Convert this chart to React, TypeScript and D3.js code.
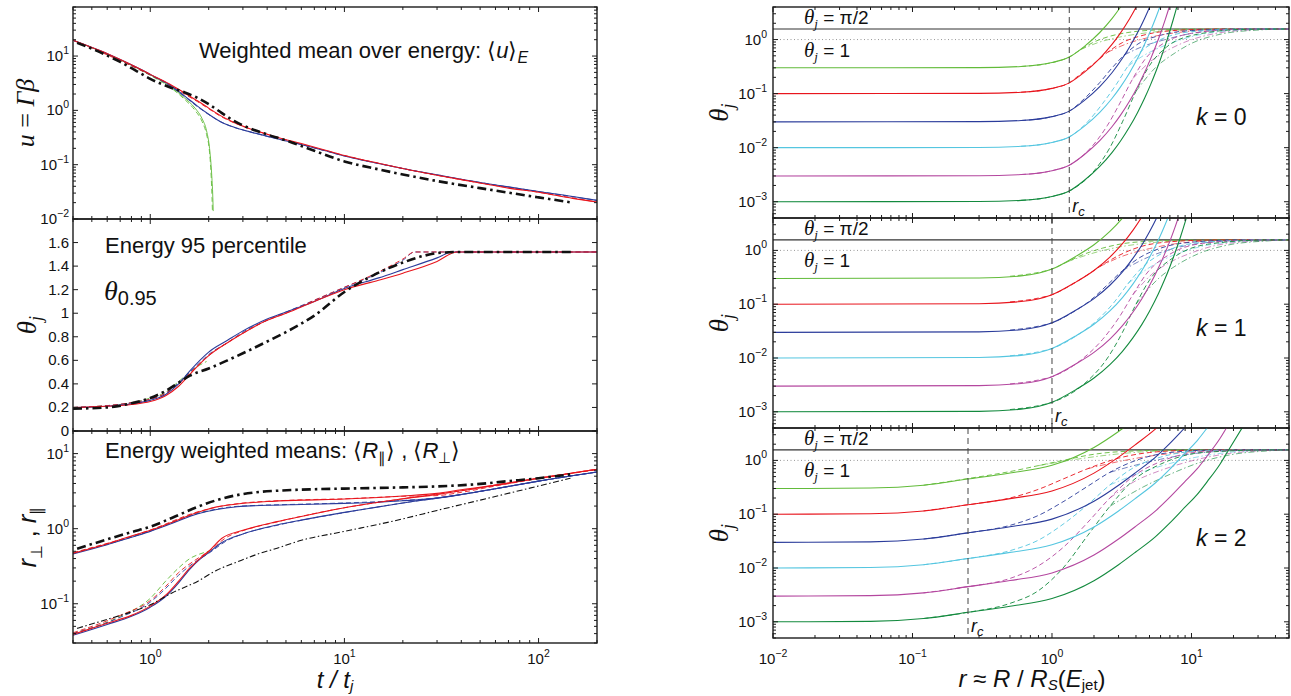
import React from "react";
import * as d3 from "d3";

type Pt = [number, number];

// ================= LEFT COLUMN DATA =================
const T_DOMAIN: [number, number] = [0.4, 200];
const U_DOMAIN: [number, number] = [0.01, 80];
const TH95_DOMAIN: [number, number] = [0, 1.8];
const R_DOMAIN: [number, number] = [0.03, 20];
const TH95_TICKS = [0, 0.2, 0.4, 0.6, 0.8, 1, 1.2, 1.4, 1.6];

// u = Gamma beta (energy weighted mean)
const U_BLUE: Pt[] = [[0.4,19.6],[0.55,12.6],[0.7,8.6],[0.85,6.2],[1,4.6],[1.25,3.0],[1.5,1.85],[1.75,1.2],[2,0.85],[2.3,0.62],[2.7,0.49],[3.2,0.41],[4.5,0.3],[6,0.235],[8,0.18],[10,0.145],[15,0.105],[20,0.085],[30,0.065],[50,0.047],[70,0.039],[100,0.032],[150,0.026],[200,0.022]];
const U_BLUE_DASH: Pt[] = [[0.4,19.6],[0.7,8.5],[1,4.5],[1.25,2.9],[1.5,1.8],[1.75,1.17],[2,0.84],[2.3,0.62],[2.7,0.49],[3.2,0.41],[4.5,0.3],[6,0.235],[10,0.145],[20,0.085],[50,0.047],[100,0.032],[200,0.022]];
const U_RED: Pt[] = [[0.4,19.6],[0.55,12.6],[0.7,8.6],[0.85,6.2],[1,4.6],[1.25,3.1],[1.5,2.1],[1.75,1.5],[2,1.1],[2.3,0.8],[2.7,0.6],[3.2,0.47],[4.5,0.32],[6,0.245],[8,0.185],[10,0.148],[15,0.106],[20,0.085],[30,0.064],[50,0.046],[70,0.037],[100,0.031],[150,0.024],[200,0.0205]];
const U_RED_DASH: Pt[] = [[0.4,19.6],[1,4.5],[1.25,3.0],[1.5,2.0],[1.75,1.45],[2,1.07],[2.3,0.78],[2.7,0.59],[3.2,0.47],[4.5,0.32],[10,0.148],[20,0.085],[50,0.046],[100,0.031],[200,0.0205]];
const U_GREEN: Pt[] = [[0.4,19.6],[0.7,8.5],[1,4.5],[1.25,2.85],[1.5,1.7],[1.7,1.1],[1.85,0.7],[1.95,0.42],[2.02,0.2],[2.07,0.07],[2.1,0.025],[2.11,0.014]];
const U_GREEN_DASH: Pt[] = [[0.4,19.6],[0.7,8.4],[1,4.4],[1.25,2.75],[1.5,1.6],[1.7,1.0],[1.85,0.62],[1.95,0.36],[2.02,0.17],[2.06,0.06],[2.08,0.025],[2.09,0.014]];
const U_BLACK: Pt[] = [[0.42,17.5],[0.55,11.8],[0.7,7.8],[0.85,5.3],[1,3.8],[1.25,2.7],[1.5,2.15],[1.75,1.7],[2,1.3],[2.33,0.9],[2.7,0.64],[3.2,0.48],[4,0.36],[5,0.28],[7,0.18],[10,0.115],[15,0.082],[20,0.066],[30,0.05],[50,0.037],[100,0.025],[150,0.02]];

// theta_0.95
const TH_BLUE: Pt[] = [[0.4,0.2],[0.6,0.21],[0.8,0.23],[1,0.26],[1.2,0.31],[1.4,0.4],[1.6,0.51],[1.8,0.6],[2,0.67],[2.5,0.77],[3,0.85],[4,0.95],[5,1.01],[7,1.1],[10,1.21],[15,1.3],[20,1.37],[30,1.47],[36,1.52],[60,1.52],[200,1.52]];
const TH_BLUE_DASH: Pt[] = [[0.4,0.2],[0.6,0.215],[0.8,0.24],[1,0.27],[1.2,0.32],[1.4,0.41],[1.6,0.5],[1.8,0.58],[2,0.65],[2.5,0.75],[3,0.84],[4,0.94],[5,1.01],[7,1.11],[10,1.22],[15,1.34],[20,1.45],[23,1.52],[60,1.52],[200,1.52]];
const TH_RED: Pt[] = [[0.4,0.2],[0.6,0.21],[0.8,0.225],[1,0.25],[1.2,0.3],[1.4,0.38],[1.6,0.48],[1.8,0.57],[2,0.64],[2.5,0.75],[3,0.83],[4,0.94],[5,1.0],[7,1.1],[10,1.2],[15,1.28],[20,1.34],[30,1.44],[38,1.52],[60,1.52],[200,1.52]];
const TH_RED_DASH: Pt[] = [[0.4,0.2],[0.8,0.24],[1,0.27],[1.2,0.32],[1.4,0.4],[1.6,0.49],[1.8,0.57],[2,0.64],[2.5,0.75],[3,0.83],[4,0.94],[5,1.0],[7,1.11],[10,1.22],[15,1.35],[20,1.46],[23,1.52],[60,1.52],[200,1.52]];
const TH_GREEN_DASH: Pt[] = [[0.4,0.2],[0.6,0.215],[0.8,0.24],[1,0.28],[1.2,0.33],[1.4,0.42],[1.6,0.5],[1.8,0.56],[1.95,0.59]];
const TH_BLACK: Pt[] = [[0.4,0.19],[0.6,0.2],[0.8,0.235],[1,0.28],[1.2,0.34],[1.4,0.41],[1.6,0.47],[2,0.53],[2.5,0.6],[3,0.66],[4,0.76],[5,0.84],[7,0.98],[10,1.18],[14,1.32],[20,1.43],[26,1.49],[32,1.515],[40,1.52],[150,1.52]];

// r_perp (upper group) and r_par (lower group)
const R_BLACK_UP: Pt[] = [[0.42,0.54],[0.6,0.72],[0.8,0.9],[1,1.06],[1.3,1.4],[1.76,1.96],[2.2,2.4],[2.8,2.8],[3.5,3.05],[4.5,3.2],[7,3.35],[10,3.42],[20,3.55],[30,3.65],[50,3.95],[70,4.3],[100,4.7],[146,5.3]];
const R_RED_UP: Pt[] = [[0.4,0.47],[0.6,0.63],[0.8,0.8],[1,0.95],[1.3,1.22],[1.76,1.65],[2.2,1.95],[2.8,2.13],[4,2.3],[6,2.4],[10,2.48],[15,2.6],[20,2.72],[30,2.95],[40,3.3],[60,3.8],[100,4.7],[200,6.2]];
const R_RED_UP_DASH: Pt[] = [[0.4,0.48],[1,0.96],[1.76,1.68],[2.8,2.15],[6,2.42],[10,2.5],[15,2.62],[20,2.7],[30,2.76],[40,3.05],[60,3.7],[100,4.65],[200,6.1]];
const R_BLUE_UP: Pt[] = [[0.4,0.46],[0.6,0.61],[0.8,0.77],[1,0.92],[1.3,1.18],[1.76,1.58],[2.2,1.8],[2.8,1.96],[4,2.05],[6,2.1],[10,2.17],[15,2.25],[20,2.35],[30,2.55],[40,2.85],[60,3.4],[100,4.3],[200,5.7]];
const R_BLUE_UP_DASH: Pt[] = [[0.4,0.47],[1,0.93],[1.76,1.6],[2.8,1.98],[6,2.12],[10,2.2],[20,2.38],[30,2.56],[40,2.84],[60,3.4],[100,4.3],[200,5.7]];
const R_GREEN_UP: Pt[] = [[0.4,0.47],[0.7,0.7],[1,0.94],[1.3,1.22],[1.6,1.5],[1.9,1.68],[2.1,1.75]];
const R_RED_LOW: Pt[] = [[0.4,0.039],[0.6,0.055],[0.8,0.07],[1,0.093],[1.2,0.13],[1.4,0.2],[1.6,0.3],[1.8,0.4],[2,0.5],[2.33,0.74],[3,0.95],[4.5,1.24],[6,1.45],[10,1.9],[15,2.25],[20,2.5],[30,2.85],[40,3.2],[60,3.8],[100,4.7],[200,6.2]];
const R_RED_LOW_DASH: Pt[] = [[0.4,0.041],[0.7,0.07],[1,0.11],[1.2,0.17],[1.4,0.26],[1.7,0.38],[2,0.5],[2.5,0.78],[3,0.94],[4.5,1.23],[10,1.9],[20,2.5],[40,3.2],[100,4.7],[200,6.2]];
const R_BLUE_LOW: Pt[] = [[0.4,0.038],[0.6,0.053],[0.8,0.068],[1,0.09],[1.2,0.125],[1.4,0.19],[1.6,0.29],[1.8,0.39],[2,0.48],[2.33,0.65],[3,0.85],[4.5,1.12],[6,1.3],[10,1.65],[15,1.95],[20,2.2],[30,2.55],[40,2.85],[60,3.4],[100,4.3],[200,5.7]];
const R_BLUE_LOW_DASH: Pt[] = [[0.4,0.04],[0.7,0.066],[1,0.105],[1.2,0.16],[1.4,0.24],[1.7,0.36],[2,0.47],[2.5,0.7],[3,0.85],[4.5,1.11],[10,1.64],[20,2.2],[40,2.85],[100,4.3],[200,5.7]];
const R_GREEN_LOW: Pt[] = [[0.4,0.04],[0.7,0.068],[1,0.118],[1.2,0.2],[1.4,0.3],[1.6,0.4],[1.8,0.46],[2,0.5]];
const R_BLACK_LOW: Pt[] = [[0.42,0.047],[0.6,0.062],[0.8,0.078],[1,0.097],[1.3,0.14],[1.76,0.2],[2.2,0.28],[2.8,0.36],[3.5,0.45],[4.5,0.55],[6,0.7],[10,0.92],[20,1.35],[30,1.75],[50,2.4],[100,3.7],[146,4.7]];

// ================= RIGHT COLUMN DATA =================
const RR_DOMAIN: [number, number] = [0.01, 50];
const THJ_DOMAIN: [number, number] = [5e-4, 4];
const K_VALUES = [0, 1, 2];
const RC_VALUES = [1.33, 1.0, 0.25];
const THETA_HALF_PI = Math.PI / 2;
// order of colours: 0.3 green, 0.1 red, 0.03 blue, 0.01 cyan, 0.003 magenta, 0.001 dark green

const K0_SOLID: Pt[][] = [
  [[0.01,0.3],[0.3,0.303],[0.6,0.318],[1.0,0.375],[1.33,0.474],[1.7,0.74],[2.2,1.35],[2.7,2.46],[3.1,3.99],[3.4,5.7]],
  [[0.01,0.1],[0.3,0.101],[0.6,0.106],[1.0,0.125],[1.33,0.158],[1.7,0.247],[2.2,0.45],[2.7,0.82],[3.1,1.33],[3.6,2.43],[4.1,4.44],[4.4,6.4]],
  [[0.01,0.03],[0.3,0.0303],[0.6,0.0318],[1.0,0.0375],[1.33,0.0474],[1.7,0.074],[2.2,0.135],[2.7,0.246],[3.1,0.4],[3.6,0.73],[4.1,1.33],[4.6,2.43],[5.1,4.44],[5.4,6.4]],
  [[0.01,0.01],[0.3,0.0101],[0.6,0.0106],[1.0,0.0125],[1.33,0.0158],[1.7,0.0247],[2.2,0.045],[2.7,0.082],[3.1,0.133],[3.6,0.243],[4.1,0.444],[4.6,0.81],[5.1,1.48],[5.6,2.7],[6.0,4.37],[6.3,6.3]],
  [[0.01,0.003],[0.3,0.00303],[0.6,0.00318],[1.0,0.00375],[1.33,0.00474],[1.7,0.0074],[2.2,0.0135],[2.7,0.0246],[3.1,0.04],[3.6,0.073],[4.1,0.133],[4.6,0.243],[5.1,0.444],[5.6,0.81],[6.0,1.31],[6.5,2.39],[6.9,3.87],[7.2,5.6]],
  [[0.01,0.001],[0.3,0.00101],[0.6,0.00106],[1.0,0.00125],[1.33,0.00158],[1.7,0.00247],[2.2,0.0045],[2.7,0.0082],[3.1,0.0133],[3.6,0.0243],[4.1,0.0444],[4.6,0.081],[5.1,0.148],[5.6,0.27],[6.0,0.437],[6.5,0.795],[6.9,1.29],[7.4,2.35],[7.9,4.28],[8.2,6.2]],
];
const K0_DASH: Pt[][] = [
  [[0.6,0.318],[1.0,0.375],[1.33,0.474],[1.6,0.65],[2,0.9],[2.6,1.15],[3.5,1.35],[5,1.48],[10,1.56],[50,1.571]],
  [[0.6,0.106],[1.0,0.125],[1.33,0.158],[1.6,0.23],[2,0.36],[2.5,0.58],[3.2,0.88],[4.5,1.2],[7,1.45],[15,1.56],[50,1.571]],
  [[0.6,0.0318],[1.0,0.0375],[1.33,0.0474],[1.7,0.08],[2.2,0.16],[2.7,0.3],[3.3,0.52],[4.2,0.85],[6,1.2],[10,1.47],[25,1.568],[50,1.571]],
  [[0.6,0.0106],[1.0,0.0125],[1.33,0.0158],[1.8,0.03],[2.3,0.065],[2.9,0.15],[3.5,0.32],[4.4,0.62],[6,1.0],[10,1.4],[25,1.565],[50,1.571]],
  [[0.6,0.00318],[1.0,0.00375],[1.33,0.00474],[1.9,0.01],[2.5,0.026],[3.1,0.07],[3.8,0.19],[4.7,0.45],[6.3,0.85],[10,1.3],[25,1.56],[50,1.571]],
  [[0.6,0.00106],[1.0,0.00125],[1.33,0.00158],[2.0,0.0037],[2.6,0.01],[3.2,0.03],[4,0.11],[5,0.33],[6.6,0.72],[11,1.25],[25,1.55],[50,1.571]],
];
const K0_DASHDOT: Pt[][] = [
  [[1.6,0.65],[2.2,0.9],[3,1.1],[5,1.35],[10,1.52],[30,1.57],[50,1.571]],
  [[2.5,0.58],[3.5,0.85],[5,1.1],[8,1.35],[15,1.52],[40,1.57],[50,1.571]],
  [[3.3,0.52],[4.5,0.75],[6.5,1.0],[10,1.3],[20,1.52],[50,1.571]],
  [[3.5,0.32],[4.5,0.5],[6,0.72],[9,1.05],[15,1.38],[30,1.54],[50,1.571]],
  [[3.8,0.19],[5,0.38],[6.5,0.6],[9,0.9],[15,1.3],[30,1.53],[50,1.571]],
  [[4,0.11],[5.5,0.3],[7.5,0.55],[10,0.85],[16,1.25],[30,1.5],[50,1.571]],
];

const K1_SOLID: Pt[][] = [
  [[0.01,0.3],[0.3,0.306],[0.6,0.336],[1.0,0.45],[1.5,0.79],[2.0,1.27],[2.6,2.25],[3.2,3.99],[3.5,5.3]],
  [[0.01,0.1],[0.3,0.102],[0.6,0.112],[1.0,0.15],[1.5,0.263],[2.0,0.424],[2.6,0.75],[3.2,1.33],[3.8,2.36],[4.4,4.17],[4.7,5.6]],
  [[0.01,0.03],[0.3,0.0306],[0.6,0.0336],[1.0,0.045],[1.5,0.079],[2.0,0.127],[2.6,0.225],[3.2,0.4],[3.8,0.71],[4.4,1.25],[5.0,2.22],[5.8,4.74],[6.0,5.76]],
  [[0.01,0.01],[0.3,0.0102],[0.6,0.0112],[1.0,0.015],[1.5,0.0263],[2.0,0.0424],[2.6,0.075],[3.2,0.133],[3.8,0.236],[4.4,0.417],[5.0,0.74],[5.8,1.58],[6.4,2.81],[7.0,4.98]],
  [[0.01,0.003],[0.3,0.00306],[0.6,0.00336],[1.0,0.0045],[1.5,0.0079],[2.0,0.0127],[2.6,0.0225],[3.2,0.04],[3.8,0.071],[4.4,0.125],[5.0,0.222],[5.8,0.474],[6.4,0.843],[7.0,1.49],[7.6,2.65],[8.3,5.16]],
  [[0.01,0.001],[0.3,0.00102],[0.6,0.00112],[1.0,0.0015],[1.5,0.00263],[2.0,0.00424],[2.6,0.0075],[3.2,0.0133],[3.8,0.0236],[4.4,0.0417],[5.0,0.074],[5.8,0.158],[6.4,0.281],[7.0,0.498],[7.6,0.883],[8.3,1.72],[9.0,3.35],[9.6,5.94]],
];
const K1_DASH: Pt[][] = [
  [[0.5,0.33],[0.8,0.39],[1,0.45],[1.3,0.62],[1.7,0.85],[2.3,1.1],[3.2,1.33],[5,1.48],[10,1.56],[50,1.571]],
  [[0.5,0.11],[0.8,0.13],[1,0.15],[1.3,0.21],[1.7,0.32],[2.2,0.5],[3,0.8],[4.2,1.15],[6.5,1.42],[14,1.56],[50,1.571]],
  [[0.5,0.033],[0.8,0.039],[1,0.045],[1.4,0.07],[1.9,0.12],[2.5,0.23],[3.2,0.42],[4.2,0.72],[6,1.1],[10,1.42],[25,1.565],[50,1.571]],
  [[0.5,0.011],[0.8,0.013],[1,0.015],[1.5,0.026],[2.1,0.05],[2.8,0.11],[3.5,0.24],[4.5,0.5],[6.5,0.95],[11,1.38],[30,1.565],[50,1.571]],
  [[0.5,0.0033],[0.8,0.0039],[1,0.0045],[1.6,0.009],[2.3,0.022],[3,0.055],[3.8,0.15],[4.8,0.38],[7,0.85],[12,1.35],[30,1.565],[50,1.571]],
  [[0.5,0.0011],[0.8,0.0013],[1,0.0015],[1.7,0.0033],[2.5,0.01],[3.2,0.03],[4,0.1],[5,0.28],[7.5,0.75],[13,1.3],[35,1.565],[50,1.571]],
];
const K1_DASHDOT: Pt[][] = [
  [[1.3,0.62],[2,0.9],[3,1.15],[5,1.38],[10,1.53],[30,1.57],[50,1.571]],
  [[2.2,0.5],[3.2,0.78],[5,1.08],[8,1.35],[15,1.52],[40,1.57],[50,1.571]],
  [[3.2,0.42],[4.5,0.68],[6.5,0.98],[10,1.28],[20,1.5],[50,1.571]],
  [[3.5,0.24],[4.8,0.45],[6.5,0.7],[9.5,1.02],[16,1.36],[35,1.54],[50,1.571]],
  [[3.8,0.15],[5.2,0.36],[7,0.6],[10,0.9],[16,1.28],[35,1.52],[50,1.571]],
  [[4,0.1],[5.8,0.3],[8,0.55],[11,0.85],[18,1.25],[35,1.5],[50,1.571]],
];

const K2_SOLID: Pt[][] = [
  [[0.01,0.3],[0.05,0.306],[0.12,0.345],[0.25,0.45],[0.5,0.585],[1,0.81],[2,1.74],[3,3.45],[4,6.0]],
  [[0.01,0.1],[0.05,0.102],[0.12,0.115],[0.25,0.15],[0.5,0.195],[1,0.27],[2,0.58],[3,1.15],[4,2.0],[5.5,3.8],[7,6.9]],
  [[0.01,0.03],[0.05,0.0306],[0.12,0.0345],[0.25,0.045],[0.5,0.0585],[1,0.081],[2,0.174],[3,0.345],[4,0.6],[5.5,1.14],[7,2.07],[8.9,3.96],[11,7.0]],
  [[0.01,0.01],[0.05,0.0102],[0.12,0.0115],[0.25,0.015],[0.5,0.0195],[1,0.027],[2,0.058],[3,0.115],[4,0.2],[5.5,0.38],[7,0.69],[8.9,1.32],[11,2.34],[13,4.07],[16,8.5]],
  [[0.01,0.003],[0.05,0.00306],[0.12,0.00345],[0.25,0.0045],[0.5,0.00585],[1,0.0081],[2,0.0174],[3,0.0345],[4,0.06],[5.5,0.114],[7,0.207],[8.9,0.396],[11,0.7],[13,1.22],[16,2.55],[18,4.2],[23,11.9]],
  [[0.01,0.001],[0.05,0.00102],[0.12,0.00115],[0.25,0.0015],[0.5,0.00195],[1,0.0027],[2,0.0058],[3,0.0115],[4,0.02],[5.5,0.038],[7,0.069],[8.9,0.132],[11,0.234],[13,0.407],[16,0.85],[18,1.4],[23,3.98],[27,7.94]],
];
const K2_DASH: Pt[][] = [
  [[0.12,0.345],[0.25,0.46],[0.5,0.62],[0.8,0.8],[1.2,1.0],[2,1.3],[4,1.5],[10,1.565],[50,1.571]],
  [[0.12,0.115],[0.25,0.15],[0.5,0.2],[0.8,0.29],[1.2,0.45],[1.8,0.7],[3,1.1],[5,1.4],[10,1.54],[30,1.571],[50,1.571]],
  [[0.12,0.0345],[0.25,0.045],[0.5,0.062],[0.8,0.095],[1.2,0.17],[1.8,0.33],[2.6,0.6],[4,1.0],[7,1.4],[15,1.56],[50,1.571]],
  [[0.12,0.0115],[0.25,0.015],[0.5,0.021],[0.8,0.033],[1.2,0.065],[1.8,0.15],[2.6,0.35],[3.8,0.72],[6,1.15],[12,1.5],[40,1.571],[50,1.571]],
  [[0.12,0.00345],[0.25,0.0045],[0.5,0.0064],[0.8,0.011],[1.2,0.024],[1.8,0.07],[2.6,0.2],[3.8,0.5],[6,0.95],[12,1.45],[40,1.571],[50,1.571]],
  [[0.12,0.00115],[0.25,0.0015],[0.5,0.0022],[0.8,0.0038],[1.2,0.01],[1.8,0.04],[2.6,0.14],[3.8,0.42],[6,0.85],[12,1.4],[40,1.571],[50,1.571]],
];
const K2_DASHDOT: Pt[][] = [
  [[0.8,0.8],[1.5,1.05],[3,1.32],[6,1.5],[15,1.565],[50,1.571]],
  [[1.8,0.7],[3,0.95],[5,1.2],[9,1.42],[20,1.55],[50,1.571]],
  [[2.6,0.6],[4,0.82],[6,1.05],[10,1.32],[20,1.52],[50,1.571]],
  [[2.6,0.35],[4,0.55],[6,0.78],[10,1.1],[18,1.4],[35,1.55],[50,1.571]],
  [[2.6,0.2],[4,0.42],[6,0.65],[10,0.98],[18,1.33],[35,1.53],[50,1.571]],
  [[2.6,0.14],[4.5,0.32],[7,0.55],[12,0.95],[20,1.3],[35,1.5],[50,1.571]],
];

const SOLIDS = [K0_SOLID, K1_SOLID, K2_SOLID];
const DASHES = [K0_DASH, K1_DASH, K2_DASH];
const DASHDOTS = [K0_DASHDOT, K1_DASHDOT, K2_DASHDOT];

// ================= STYLE / LAYOUT =================
const W = 1291, H = 696;
const SANS = "'Liberation Sans', Arial, Helvetica, sans-serif";
const SERIF = "'Liberation Serif', 'Times New Roman', serif";
const COLORS = ["#62bb3a", "#e8151d", "#2b3c9b", "#55c6e0", "#b4479f", "#138a3e"];
const C_RED = COLORS[1], C_BLUE = COLORS[2], C_GREEN = COLORS[0];
const AX = "#1c1c1c";
const TICK_FS = 15;
const XTICK_BASE = 664;

const LX: [number, number] = [73, 597];
const LROWS: [number, number][] = [[7, 219], [219, 431], [431, 643]];
const RX: [number, number] = [773, 1289];
const RROWS: [number, number][] = [[7, 218], [218, 428], [428, 638]];

function logTicks(lo: number, hi: number) {
  const major: number[] = [], minor: number[] = [];
  for (let e = Math.floor(Math.log10(lo)); e <= Math.ceil(Math.log10(hi)); e++) {
    for (let m = 1; m < 10; m++) {
      const v = m * Math.pow(10, e);
      if (v < lo * 0.9999 || v > hi * 1.0001) continue;
      (m === 1 ? major : minor).push(v);
    }
  }
  return { major, minor };
}

const expStr = (v: number) => {
  const e = Math.round(Math.log10(v));
  return e < 0 ? "\u2212" + -e : String(e);
};

function Pow({ x, y, v, anchor }: { x: number; y: number; v: number; anchor: string }) {
  return (
    <text x={x} y={y} textAnchor={anchor as any} fontSize={TICK_FS} fill="#111" fontFamily={SANS}>
      10<tspan dy={-7} fontSize={10.5}>{expStr(v)}</tspan>
    </text>
  );
}

type Scale = (v: number) => number;

function Frame({ x0, x1, y0, y1, xs, ys, xMajor, xMinor, yMajor, yMinor }:
  { x0: number; x1: number; y0: number; y1: number; xs: Scale; ys: Scale; xMajor: number[]; xMinor: number[]; yMajor: number[]; yMinor: number[] }) {
  const TM = 5, Tm = 3;
  const segs: any[] = [];
  let k = 0;
  xMajor.forEach(v => { const x = xs(v); segs.push(<line key={k++} x1={x} x2={x} y1={y1} y2={y1 - TM} />, <line key={k++} x1={x} x2={x} y1={y0} y2={y0 + TM} />); });
  xMinor.forEach(v => { const x = xs(v); segs.push(<line key={k++} x1={x} x2={x} y1={y1} y2={y1 - Tm} />, <line key={k++} x1={x} x2={x} y1={y0} y2={y0 + Tm} />); });
  yMajor.forEach(v => { const y = ys(v); segs.push(<line key={k++} x1={x0} x2={x0 + TM} y1={y} y2={y} />, <line key={k++} x1={x1} x2={x1 - TM} y1={y} y2={y} />); });
  yMinor.forEach(v => { const y = ys(v); segs.push(<line key={k++} x1={x0} x2={x0 + Tm} y1={y} y2={y} />, <line key={k++} x1={x1} x2={x1 - Tm} y1={y} y2={y} />); });
  return (
    <g stroke={AX} strokeWidth={1} fill="none">
      {segs}
      <rect x={x0} y={y0} width={x1 - x0} height={y1 - y0} strokeWidth={1.4} />
    </g>
  );
}

const DASH = "5,3";
const DASHDOT = "6,2.5,1.5,2.5";
const BIGDASHDOT = "9,4,2.5,4";

export default function App() {
  const xL = d3.scaleLog().domain(T_DOMAIN).range(LX);
  const yU = d3.scaleLog().domain(U_DOMAIN).range([LROWS[0][1], LROWS[0][0]]);
  const yT = d3.scaleLinear().domain(TH95_DOMAIN).range([LROWS[1][1], LROWS[1][0]]);
  const yR = d3.scaleLog().domain(R_DOMAIN).range([LROWS[2][1], LROWS[2][0]]);
  const xR = d3.scaleLog().domain(RR_DOMAIN).range(RX);

  const lineOf = (xs: Scale, ys: Scale) =>
    d3.line<Pt>().x(d => xs(d[0])).y(d => ys(d[1])).curve(d3.curveMonotoneX);

  const tT = logTicks(T_DOMAIN[0], T_DOMAIN[1]);
  const tU = logTicks(U_DOMAIN[0], U_DOMAIN[1]);
  const tR = logTicks(R_DOMAIN[0], R_DOMAIN[1]);
  const tRR = logTicks(RR_DOMAIN[0], RR_DOMAIN[1]);
  const tTH = logTicks(THJ_DOMAIN[0], THJ_DOMAIN[1]);

  const lU = lineOf(xL, yU), lT = lineOf(xL, yT), lR = lineOf(xL, yR);

  const P = (d: string | null, color: string, w = 1, dash?: string, op = 1) => (
    <path d={d || ""} fill="none" stroke={color} strokeWidth={w} strokeDasharray={dash} opacity={op} />
  );

  return (
    <svg width={W} height={H} style={{ position: "absolute", left: 0, top: 0, background: "#fff" }} fontFamily={SANS}>
      <defs>
        {LROWS.map((r, i) => (
          <clipPath id={"lc" + i} key={i}><rect x={LX[0]} y={r[0]} width={LX[1] - LX[0]} height={r[1] - r[0]} /></clipPath>
        ))}
        {RROWS.map((r, i) => (
          <clipPath id={"rc" + i} key={i}><rect x={RX[0]} y={r[0]} width={RX[1] - RX[0]} height={r[1] - r[0]} /></clipPath>
        ))}
      </defs>

      {/* ===== LEFT TOP: u ===== */}
      <g clipPath="url(#lc0)">
        {P(lU(U_GREEN), C_GREEN, 0.9)}
        {P(lU(U_GREEN_DASH), C_GREEN, 0.9, DASH)}
        {P(lU(U_BLUE_DASH), C_BLUE, 0.9, DASH)}
        {P(lU(U_RED_DASH), C_RED, 0.9, DASH)}
        {P(lU(U_BLUE), C_BLUE, 1.1)}
        {P(lU(U_RED), C_RED, 1.1)}
        {P(lU(U_BLACK), "#111", 2.6, BIGDASHDOT)}
      </g>
      <Frame x0={LX[0]} x1={LX[1]} y0={LROWS[0][0]} y1={LROWS[0][1]} xs={xL} ys={yU}
        xMajor={tT.major} xMinor={tT.minor} yMajor={tU.major} yMinor={tU.minor} />
      {tU.major.map(v => <Pow key={v} x={69} y={yU(v) + 5} v={v} anchor="end" />)}
      <text x={199} y={58} fontSize={22} fill="#111">
        Weighted mean over energy:  ⟨<tspan fontStyle="italic">u</tspan>⟩<tspan dy={5} fontSize={16} fontStyle="italic">E</tspan>
      </text>
      <text transform={`translate(34,${(LROWS[0][0] + LROWS[0][1]) / 2}) rotate(-90)`} textAnchor="middle" fontSize={26} fill="#111" fontFamily={SERIF}>
        <tspan fontStyle="italic">u</tspan> = <tspan fontStyle="italic">Γβ</tspan>
      </text>

      {/* ===== LEFT MIDDLE: theta 0.95 ===== */}
      <g clipPath="url(#lc1)">
        {P(lT(TH_GREEN_DASH), C_GREEN, 0.9, DASH)}
        {P(lT(TH_BLUE_DASH), C_BLUE, 0.9, DASH)}
        {P(lT(TH_RED_DASH), C_RED, 0.9, DASH)}
        {P(lT(TH_BLUE), C_BLUE, 1.1)}
        {P(lT(TH_RED), C_RED, 1.1)}
        {P(lT(TH_BLACK), "#111", 2.6, BIGDASHDOT)}
      </g>
      <Frame x0={LX[0]} x1={LX[1]} y0={LROWS[1][0]} y1={LROWS[1][1]} xs={xL} ys={yT}
        xMajor={tT.major} xMinor={tT.minor} yMajor={TH95_TICKS} yMinor={[]} />
      {TH95_TICKS.map(v => (
        <text key={v} x={69} y={yT(v) + 5} textAnchor="end" fontSize={TICK_FS} fill="#111">{String(v)}</text>
      ))}
      <text x={105} y={253} fontSize={22} fill="#111">Energy 95 percentile</text>
      <text x={104} y={300} fill="#111">
        <tspan fontSize={28} fontStyle="italic" fontFamily={SERIF}>θ</tspan>
        <tspan fontSize={20} dy={5}>0.95</tspan>
      </text>
      <text transform={`translate(36,${(LROWS[1][0] + LROWS[1][1]) / 2}) rotate(-90)`} textAnchor="middle" fontSize={27} fill="#111" fontFamily={SERIF} fontStyle="italic">
        θ<tspan dy={6} fontSize={18}>j</tspan>
      </text>

      {/* ===== LEFT BOTTOM: r ===== */}
      <g clipPath="url(#lc2)">
        {P(lR(R_GREEN_UP), C_GREEN, 0.9, DASH)}
        {P(lR(R_GREEN_LOW), C_GREEN, 0.9, DASH)}
        {P(lR(R_BLUE_UP_DASH), C_BLUE, 0.9, DASH)}
        {P(lR(R_RED_UP_DASH), C_RED, 0.9, DASH)}
        {P(lR(R_BLUE_LOW_DASH), C_BLUE, 0.9, DASH)}
        {P(lR(R_RED_LOW_DASH), C_RED, 0.9, DASH)}
        {P(lR(R_BLUE_UP), C_BLUE, 1.1)}
        {P(lR(R_RED_UP), C_RED, 1.1)}
        {P(lR(R_BLUE_LOW), C_BLUE, 1.1)}
        {P(lR(R_RED_LOW), C_RED, 1.1)}
        {P(lR(R_BLACK_LOW), "#111", 1.1, DASHDOT)}
        {P(lR(R_BLACK_UP), "#111", 2.6, BIGDASHDOT)}
      </g>
      <Frame x0={LX[0]} x1={LX[1]} y0={LROWS[2][0]} y1={LROWS[2][1]} xs={xL} ys={yR}
        xMajor={tT.major} xMinor={tT.minor} yMajor={tR.major} yMinor={tR.minor} />
      {tR.major.map(v => <Pow key={v} x={69} y={yR(v) + 5} v={v} anchor="end" />)}
      {tT.major.map(v => <Pow key={v} x={xL(v)} y={XTICK_BASE} v={v} anchor="middle" />)}
      <text x={105} y={458} fontSize={22} fill="#111">
        Energy weighted means:  ⟨<tspan fontStyle="italic">R</tspan><tspan dy={5} fontSize={15}>∥</tspan><tspan dy={-5}>⟩ ,  ⟨</tspan><tspan fontStyle="italic">R</tspan><tspan dy={5} fontSize={15}>⊥</tspan><tspan dy={-5}>⟩</tspan>
      </text>
      <text transform={`translate(36,${(LROWS[2][0] + LROWS[2][1]) / 2}) rotate(-90)`} textAnchor="middle" fontSize={26} fill="#111">
        <tspan fontStyle="italic">r</tspan><tspan dy={6} fontSize={16}>⊥</tspan><tspan dy={-6}>  ,  </tspan><tspan fontStyle="italic">r</tspan><tspan dy={6} fontSize={16}>∥</tspan>
      </text>
      <text x={335} y={688} textAnchor="middle" fontSize={24} fill="#111" fontStyle="italic">
        t / t<tspan dy={3} fontSize={15}>j</tspan>
      </text>

      {/* ===== RIGHT COLUMN ===== */}
      {K_VALUES.map((kv, p) => {
        const [y0, y1] = RROWS[p];
        const yS = d3.scaleLog().domain(THJ_DOMAIN).range([y1, y0]);
        const ln = lineOf(xR, yS);
        const xc = xR(RC_VALUES[p]);
        return (
          <g key={p}>
            <g clipPath={`url(#rc${p})`}>
              <line x1={RX[0]} x2={RX[1]} y1={yS(1)} y2={yS(1)} stroke="#999" strokeWidth={1} strokeDasharray="1,2.5" />
              <line x1={RX[0]} x2={RX[1]} y1={yS(THETA_HALF_PI)} y2={yS(THETA_HALF_PI)} stroke="#333" strokeWidth={1.1} />
              {DASHDOTS[p].map((s, i) => <g key={"dd" + i}>{P(ln(s), COLORS[i], 0.9, DASHDOT, 0.7)}</g>)}
              {DASHES[p].map((s, i) => <g key={"d" + i}>{P(ln(s), COLORS[i], 0.9, DASH)}</g>)}
              {SOLIDS[p].map((s, i) => <g key={"s" + i}>{P(ln(s), COLORS[i], 1.1)}</g>)}
              <line x1={xc} x2={xc} y1={y0} y2={y1} stroke="#444" strokeWidth={1} strokeDasharray="6,4" />
            </g>
            <Frame x0={RX[0]} x1={RX[1]} y0={y0} y1={y1} xs={xR} ys={yS}
              xMajor={tRR.major} xMinor={tRR.minor} yMajor={tTH.major} yMinor={tTH.minor} />
            {tTH.major.map(v => <Pow key={v} x={767} y={yS(v) + 5} v={v} anchor="end" />)}
            <text x={804} y={yS(THETA_HALF_PI) - 5} fontSize={19} fill="#111">
              <tspan fontFamily={SERIF} fontStyle="italic" fontSize={21}>θ</tspan><tspan dy={4} fontSize={13} fontStyle="italic" fontFamily={SERIF}>j</tspan><tspan dy={-4}> = π/2</tspan>
            </text>
            <text x={804} y={yS(1) + 17} fontSize={19} fill="#111">
              <tspan fontFamily={SERIF} fontStyle="italic" fontSize={21}>θ</tspan><tspan dy={4} fontSize={13} fontStyle="italic" fontFamily={SERIF}>j</tspan><tspan dy={-4}> = 1</tspan>
            </text>
            <text x={1196} y={y0 + 118} fontSize={23} fill="#111">
              <tspan fontStyle="italic">k</tspan> = {kv}
            </text>
            <text x={xc + 3} y={y1 - 6} fontSize={18} fill="#111" fontStyle="italic">
              r<tspan dy={4} fontSize={13}>c</tspan>
            </text>
            <text transform={`translate(728,${(y0 + y1) / 2}) rotate(-90)`} textAnchor="middle" fontSize={27} fill="#111" fontFamily={SERIF} fontStyle="italic">
              θ<tspan dy={6} fontSize={18}>j</tspan>
            </text>
          </g>
        );
      })}
      {tRR.major.map(v => <Pow key={v} x={xR(v)} y={XTICK_BASE} v={v} anchor="middle" />)}
      <text x={1032} y={687} textAnchor="middle" fontSize={24} fill="#111">
        <tspan fontStyle="italic">r</tspan> ≈ <tspan fontStyle="italic">R</tspan> / <tspan fontStyle="italic">R</tspan><tspan dy={3} fontSize={15} fontStyle="italic">S</tspan><tspan dy={-3}>(</tspan><tspan fontStyle="italic">E</tspan><tspan dy={3} fontSize={15}>jet</tspan><tspan dy={-3}>)</tspan>
      </text>
    </svg>
  );
}
